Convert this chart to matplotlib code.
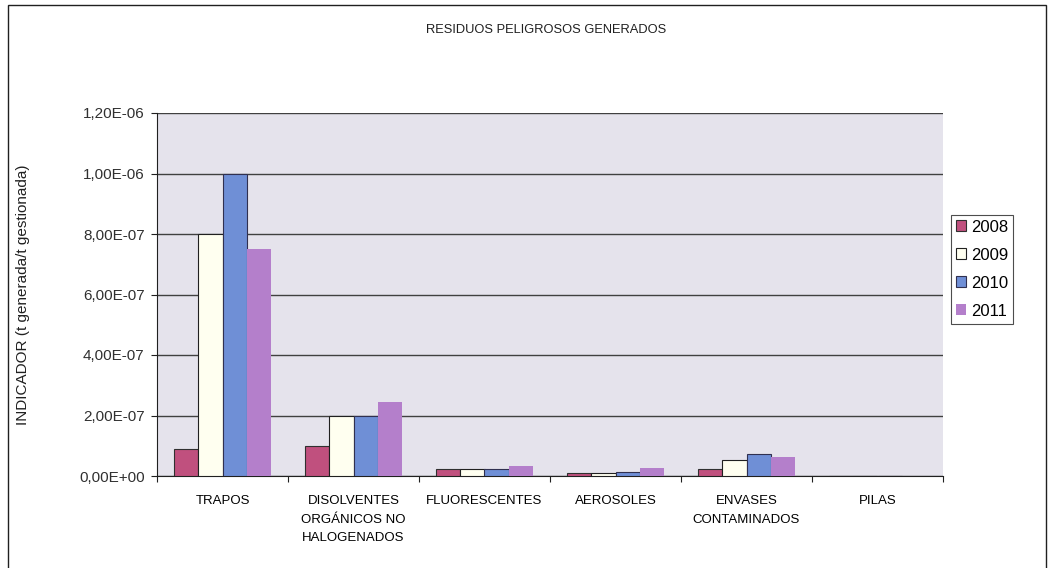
import numpy as np
import matplotlib.pyplot as plt
from matplotlib.patches import Rectangle
from matplotlib.ticker import FuncFormatter

# Residuos peligrosos: indicador por tipo y año
categorias = ["TRAPOS", "DISOLVENTES\nORGÁNICOS NO\nHALOGENADOS", "FLUORESCENTES",
              "AEROSOLES", "ENVASES\nCONTAMINADOS", "PILAS"]
anios = ["2008", "2009", "2010", "2011"]
v2008 = [9.0e-8, 1.0e-7, 2.3e-8, 1.0e-8, 2.3e-8, 0.0]
v2009 = [8.0e-7, 2.0e-7, 2.2e-8, 1.0e-8, 5.3e-8, 0.0]
v2010 = [1.0e-6, 2.0e-7, 2.3e-8, 1.2e-8, 7.3e-8, 0.0]
v2011 = [7.5e-7, 2.45e-7, 3.3e-8, 2.6e-8, 6.3e-8, 0.0]
series = [v2008, v2009, v2010, v2011]

colores = ["#C0507E", "#FFFFF0", "#6F8FD6", "#B47FCB"]
bordes = ["#303030", "#202020", "#303050", "none"]

fig = plt.figure(figsize=(10.54, 5.68), dpi=100)
ax = fig.add_axes([157/1054, 92/568, 786/1054, 363/568])
ax.set_facecolor("#E5E3EC")

x = np.arange(len(categorias))
ancho = 0.185
for i, (vals, c, b) in enumerate(zip(series, colores, bordes)):
    ax.bar(x + (i - 1.5) * ancho, vals, ancho, color=c, edgecolor=b,
           linewidth=0.8, label=anios[i], zorder=3)

ax.set_xlim(-0.5, len(categorias) - 0.5)
ax.set_ylim(0, 1.2e-6)
ax.set_yticks(np.arange(0, 1.21e-6, 2e-7))
ax.yaxis.set_major_formatter(FuncFormatter(
    lambda v, p: ("%.2E" % v).replace(".", ",")))
ax.grid(axis="y", color="#404040", linewidth=1.0, zorder=1)
ax.set_xticks(np.arange(len(categorias) + 1) - 0.5, minor=False)
ax.set_xticklabels([])
ax.set_xticks(x, minor=True)
ax.set_xticklabels(categorias, minor=True, fontsize=9.5,
                   family=["Liberation Sans Narrow", "Liberation Sans"],
                   va="top", linespacing=1.7)
ax.tick_params(axis="x", which="minor", length=0, pad=14)
ax.tick_params(axis="x", which="major", length=4, direction="out", color="#202020")
ax.tick_params(axis="y", labelsize=11, length=4, color="#202020", pad=5)
for lab in ax.get_yticklabels():
    lab.set_family("Liberation Sans")
    lab.set_color("#303030")
for s in ["top", "right"]:
    ax.spines[s].set_visible(False)
ax.spines["left"].set_color("#202020")
ax.spines["bottom"].set_color("#202020")

ax.set_ylabel("INDICADOR (t generada/t gestionada)", fontsize=11,
              family="Liberation Sans", color="#202020")
ax.yaxis.set_label_coords(-0.162, 0.5)

fig.text(546/1054, 1 - 30/568, "RESIDUOS PELIGROSOS GENERADOS", ha="center",
         va="center", fontsize=9.3, family=["Liberation Sans Narrow", "Liberation Sans"],
         color="#202020")

leg = ax.legend(loc="center left", bbox_to_anchor=(951/1054, 1 - 269/568),
                bbox_transform=fig.transFigure, frameon=True, fancybox=False,
                prop={"family": "Liberation Sans", "size": 12},
                handlelength=0.6, handleheight=0.6, handletextpad=0.3,
                labelspacing=0.78, borderpad=0.3, borderaxespad=0)
leg.get_frame().set_edgecolor("#202020")
leg.get_frame().set_linewidth(0.8)

# marco exterior del gráfico
fig.add_artist(Rectangle((8/1054, -0.05), 1038/1054, 1.05 - 5/568,
                         transform=fig.transFigure, fill=False,
                         edgecolor="#202020", linewidth=1.0))

fig.savefig("out.png", dpi=100, facecolor="white")
